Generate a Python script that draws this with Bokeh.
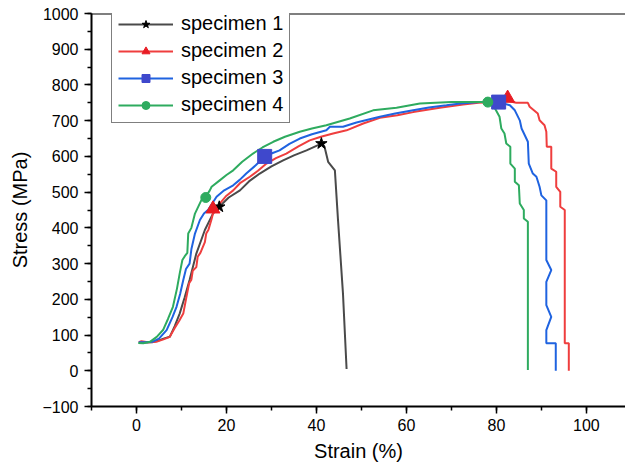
from bokeh.plotting import figure
from bokeh.models import (Range1d, SingleIntervalTicker, Legend, LegendItem, Span)
from bokeh.embed import file_html
from bokeh.resources import INLINE

# ---- data ----
s1_x = [0.8, 2, 3.5, 5, 6, 7.4, 8.5, 9.6, 10.7, 11.8, 13.3, 15.2, 17.0, 18.4, 20.5, 23, 25,
        27.4, 30, 32.6, 35, 37.8, 41.1, 41.8, 42.6, 44.1, 44.8, 45.9, 46.7]
s1_y = [80, 79, 80, 85, 90, 95, 125, 160, 205, 254, 328, 394, 440, 459, 485, 505, 530,
        552, 572, 589, 603, 617, 636, 627, 585, 561, 421, 216, 5]

s2_x = [0.5, 1.1, 2.5, 4.4, 6, 7.4, 8.5, 9.5, 10.4, 11, 11.7, 12.2, 12.5, 13.3, 13.6, 14.2,
        15.2, 15.5, 16, 16.7, 17, 18.5, 20, 21.5, 23, 25.2, 27, 28.9, 31, 33.3, 36, 38.5,
        41, 43.7, 46.7, 50.4, 54.1, 58, 61.5, 67.4, 72.6, 76, 80, 82.6, 84.4, 87, 87.4,
        89.2, 89.6, 90.7, 91.1, 91.2, 92.2, 92.2, 93.3, 93.3, 94.2, 94.2, 95.2, 95.2,
        96.1, 96.1]
s2_y = [80, 83, 80, 81, 88, 95, 120, 140, 160, 200, 245, 255, 280, 290, 319, 330,
        360, 384, 395, 425, 440, 468, 490, 505, 525, 543, 560, 580, 595, 608, 628, 645,
        655, 664, 673, 692, 708, 715, 724, 736, 745, 750, 752, 755, 750, 750, 739,
        720, 701, 687, 669, 627, 627, 566, 557, 515, 501, 459, 450, 77,
        77, 0]

s3_x = [0.5, 2, 3.5, 5, 6.7, 8, 8.9, 9.7, 10.4, 11, 11.8, 12.2, 13.0, 14.1, 15.0, 15.9,
        17.8, 19.5, 21.5, 23, 24.4, 26.5, 28.5, 30, 31.8, 34, 36.3, 39, 42.2, 43, 45.9,
        48.9, 54.1, 57.5, 61.5, 65, 68.9, 72, 76.3, 80.5, 83, 84.1, 85.2, 85.6, 87, 87.2,
        88.1, 88.9, 89.6, 90, 91.1, 91.1, 92.2, 91.1, 91.1, 92.2, 91.1, 91.1, 93.2, 93.2]
s3_y = [80, 80, 81, 90, 114, 150, 179, 215, 254, 285, 300, 340, 384, 422, 440, 450,
        487, 505, 519, 535, 552, 575, 599, 608, 617, 635, 650, 662, 673, 683, 683,
        695, 711, 720, 729, 737, 743, 748, 752, 752, 743, 729, 701, 678, 641, 580,
        552, 543, 515, 491, 477, 310, 282, 249, 184, 151, 114, 77, 77, 0]

s4_x = [0.4, 1.5, 3.0, 4.5, 5.9, 7, 8.1, 9, 9.6, 10.2, 10.7, 11.3, 11.5, 12.2, 13.0, 14.4,
        15.4, 16.3, 16.7, 18.5, 20, 21.5, 23.5, 25.9, 28, 30.4, 33, 36.3, 39, 42.2, 47.4,
        52.6, 57.8, 63, 70, 78.1, 79.3, 80.7, 81.1, 81.8, 82.2, 83.1, 83.1, 84.1, 84.1,
        85, 85.2, 86.1, 86.1, 87, 87]
s4_y = [78, 77, 81, 95, 114, 145, 179, 230, 272, 310, 320, 330, 384, 400, 440, 477,
        487, 505, 515, 533, 548, 561, 585, 608, 625, 641, 655, 669, 678, 687, 706,
        729, 736, 748, 752, 752, 743, 711, 678, 664, 636, 627, 580, 566, 529,
        519, 468, 450, 426, 417, 2]

# marked points
m1_x, m1_y = [18.4, 41.1], [459, 636]
m2_x, m2_y = [17.0, 82.5], [453, 763]
m3_x, m3_y = [28.5, 80.5], [600, 752]
m4_x, m4_y = [15.4, 78.1], [485, 752]

labels = ["specimen 1", "specimen 2", "specimen 3", "specimen 4"]
x_ticks_interval = 20
y_ticks_interval = 100

FONT = "Liberation Sans"

p = figure(width=625, height=466, output_backend="svg", toolbar_location=None,
           x_range=Range1d(-10, 108.7), y_range=Range1d(-100, 1000),
           min_border_left=91, min_border_right=0, min_border_top=13, min_border_bottom=60)
p.outline_line_color = None
p.grid.visible = False
p.background_fill_color = "white"

p.add_layout(Span(location=1000, dimension="width", line_color="black", line_width=2))

for ax, interval in ((p.xaxis[0], x_ticks_interval), (p.yaxis[0], y_ticks_interval)):
    ax.ticker = SingleIntervalTicker(interval=interval, num_minor_ticks=2)
    ax.axis_line_width = 2
    ax.axis_line_color = "black"
    ax.major_tick_line_color = "black"
    ax.minor_tick_line_color = "black"
    ax.major_tick_line_width = 1.5
    ax.minor_tick_line_width = 1.5
    ax.major_tick_in = 0
    ax.major_tick_out = 7
    ax.minor_tick_in = 0
    ax.minor_tick_out = 4
    ax.major_label_text_font = FONT
    ax.major_label_text_font_size = "16px"
    ax.major_label_text_color = "black"
    ax.axis_label_text_font = FONT
    ax.axis_label_text_font_size = "20px"
    ax.axis_label_text_font_style = "normal"
    ax.axis_label_text_color = "black"

p.xaxis.axis_label = "Strain (%)"
p.yaxis.axis_label = "Stress (MPa)"
p.xaxis.axis_label_standoff = 6
p.yaxis.axis_label_standoff = 8
p.yaxis.major_label_standoff = 6

c1, c2, c3, c4 = "#4a4a4a", "#ef3e3e", "#1f63e0", "#2eab5f"

l1 = p.line(s1_x, s1_y, line_color=c1, line_width=2)
l2 = p.line(s2_x, s2_y, line_color=c2, line_width=2)
l3 = p.line(s3_x, s3_y, line_color=c3, line_width=2)
l4 = p.line(s4_x, s4_y, line_color=c4, line_width=2)

k1 = p.scatter(m1_x, m1_y, marker="star", size=12, fill_color="black", line_color="black")
k2 = p.scatter(m2_x, m2_y, marker="triangle", size=14, fill_color="#e81c24", line_color="#e81c24")
k3 = p.scatter(m3_x, m3_y, marker="square", size=14, fill_color="#3f48cc", line_color="#3f48cc")
k4 = p.scatter(m4_x, m4_y, marker="circle", size=10, fill_color="#2eab5f", line_color="#2eab5f")

legend = Legend(items=[
    LegendItem(label=labels[0], renderers=[l1, k1]),
    LegendItem(label=labels[1], renderers=[l2, k2]),
    LegendItem(label=labels[2], renderers=[l3, k3]),
    LegendItem(label=labels[3], renderers=[l4, k4]),
], location=(20, 283))
legend.label_text_font = FONT
legend.label_text_font_size = "20px"
legend.label_text_color = "black"
legend.glyph_width = 55
legend.glyph_height = 20
legend.label_height = 20
legend.label_standoff = 8
legend.spacing = 4
legend.padding = 6
legend.margin = 0
legend.border_line_color = "black"
legend.border_line_width = 1
legend.background_fill_alpha = 1
p.add_layout(legend, "center")

open("out.html", "w").write(file_html(p, INLINE))
